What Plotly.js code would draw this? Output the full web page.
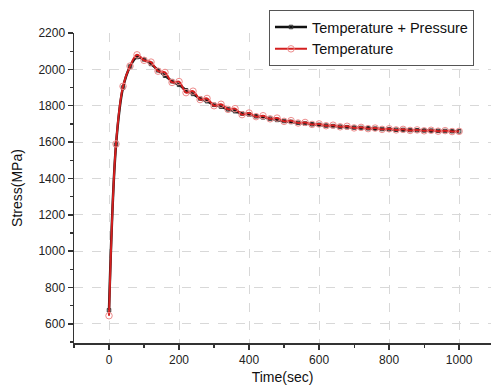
<!DOCTYPE html>
<html>
<head>
<meta charset="utf-8">
<script src="https://cdn.plot.ly/plotly-3.0.1.min.js"></script>
<style>html,body{margin:0;padding:0;background:#fff;}#chart{width:491px;height:392px;}</style>
</head>
<body>
<div id="chart"></div>
<script>
const timeSec = [0,20,40,60,80,100,120,140,160,180,200,220,240,260,280,300,320,340,360,380,400,
  420,440,460,480,500,520,540,560,580,600,620,640,660,680,700,720,740,760,780,800,
  820,840,860,880,900,920,940,960,980,1000];
const stressTempPressure = [675,1585,1900,2015,2068,2055,2030,1995,1965,1935,1915,1885,1865,1840,1825,1805,1795,1780,1770,1757,1752,
  1742,1736,1729,1722,1716,1711,1706,1702,1698,1695,1691,1688,1685,1682,1680,1678,1676,1674,1672,1670,
  1668,1667,1666,1665,1664,1663,1662,1661,1660,1659];
const stressTemp = [645,1590,1907,2018,2080,2050,2040,1990,1983,1928,1933,1872,1880,1834,1840,1800,1808,1780,1784,1751,1760,
  1740,1745,1728,1732,1714,1718,1705,1708,1697,1700,1690,1693,1684,1687,1678,1681,1674,1677,1670,1673,
  1667,1670,1664,1667,1662,1665,1660,1663,1658,1659];
const seriesNames = ["Temperature + Pressure", "Temperature"];

const traces = [
  {x: timeSec, y: stressTempPressure, name: seriesNames[0], type: 'scatter', mode: 'lines+markers',
   line: {color: '#111111', width: 2.5, shape: 'spline'},
   marker: {symbol: 'square-open', size: 3.5, color: '#333333', line: {width: 1}}},
  {x: timeSec, y: stressTemp, name: seriesNames[1], type: 'scatter', mode: 'lines+markers',
   line: {color: '#d41f1f', width: 2, shape: 'spline'},
   marker: {symbol: 'circle-open', size: 6.5, color: '#ee8c8c', line: {width: 1}}}
];

const layout = {
  width: 491, height: 392,
  margin: {l: 74, r: 0, t: 33, b: 49},
  paper_bgcolor: '#fff', plot_bgcolor: '#fff',
  font: {family: 'Liberation Sans, Arial, sans-serif', color: '#222', size: 12},
  showlegend: true,
  legend: {x: 0.4676, y: 1.074, xanchor: 'left', yanchor: 'top', bgcolor: '#fff',
    bordercolor: '#555', borderwidth: 1, font: {size: 14.5, color: '#111'},
    itemwidth: 32, tracegroupgap: 0},
  xaxis: {
    range: [-100, 1091], tickvals: [0,200,400,600,800,1000], ticktext: ['0','200','400','600','800','1000'],
    ticks: 'outside', ticklen: 5, tickwidth: 1.5, tickcolor: '#333',
    minor: {dtick: 100, tick0: 0, ticks: 'outside', ticklen: 3, tickwidth: 1.2, tickcolor: '#333', showgrid: false},
    showline: true, linecolor: '#333', linewidth: 1.5, mirror: false,
    showgrid: true, gridcolor: '#d8d8d8', griddash: 'dash', gridwidth: 1, zeroline: false,
    title: {text: 'Time(sec)', font: {size: 14, color: '#111'}, standoff: 6},
    tickfont: {size: 12, color: '#222'}
  },
  yaxis: {
    range: [495, 2200], tickvals: [600,800,1000,1200,1400,1600,1800,2000,2200],
    ticks: 'outside', ticklen: 5, tickwidth: 1.5, tickcolor: '#333',
    minor: {dtick: 100, tick0: 0, ticks: 'outside', ticklen: 3, tickwidth: 1.2, tickcolor: '#333', showgrid: false},
    showline: true, linecolor: '#333', linewidth: 1.5, mirror: false,
    showgrid: true, gridcolor: '#d8d8d8', griddash: 'dash', gridwidth: 1, zeroline: false,
    title: {text: 'Stress(MPa)', font: {size: 14, color: '#111'}, standoff: 12},
    tickfont: {size: 12, color: '#222'}
  }
};

Plotly.newPlot('chart', traces, layout, {displayModeBar: false, staticPlot: true});
</script>
</body>
</html>
